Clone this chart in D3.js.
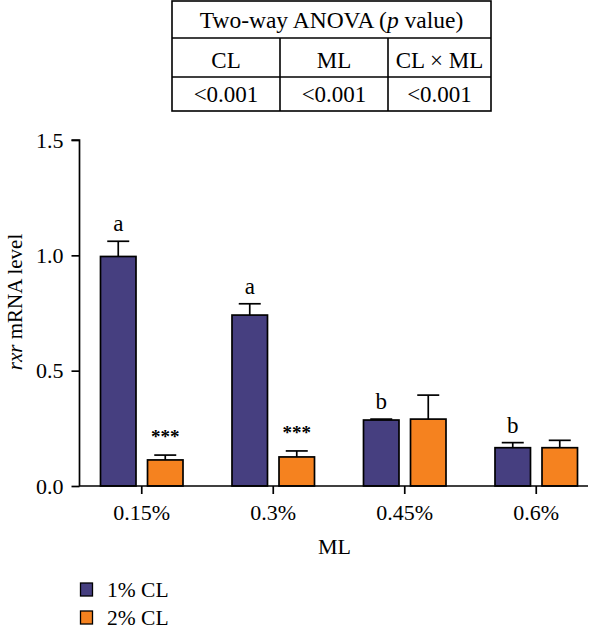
<!DOCTYPE html>
<html><head><meta charset="utf-8">
<script src="https://cdn.jsdelivr.net/npm/d3@7"></script>
<style>body{margin:0;background:#fff}svg{display:block}</style>
</head><body>
<svg id="c" width="600" height="628"></svg>
<script>
const categories = ["0.15%", "0.3%", "0.45%", "0.6%"];
const series = ["1% CL", "2% CL"];
const means = [[0.995, 0.741, 0.286, 0.166], [0.113, 0.126, 0.290, 0.166]];
const errors = [[0.066, 0.049, 0.004, 0.022], [0.021, 0.026, 0.104, 0.032]];
const letters = [["a", "a", "b", "b"], ["***", "***", "", ""]];
const yTicks = [0, 0.5, 1.0, 1.5];
const colors = ["#463f80", "#f5821f"];
const tableHeader = "Two-way ANOVA";
const tableCols = ["CL", "ML", "CL × ML"];
const tableVals = ["<0.001", "<0.001", "<0.001"];

const FONT = "Liberation Serif";
const FS = 22;
const svg = d3.select("#c").style("font-family", FONT);
const y = d3.scaleLinear().domain([0, 1.5]).range([486, 140]);
const x = d3.scaleBand().domain(categories).range([76, 602]);
const xs = d3.scaleBand().domain(series).range([0, 82.5]).paddingInner(0.245);

// Table
const tx = [172, 280, 388, 491], ty = [1, 38, 77, 111];
const tg = svg.append("g").attr("stroke", "#000").attr("stroke-width", 1.6).attr("fill", "none");
tg.append("rect").attr("x", tx[0]).attr("y", ty[0]).attr("width", tx[3]-tx[0]).attr("height", ty[3]-ty[0]);
[ty[1], ty[2]].forEach(v => tg.append("line").attr("x1", tx[0]).attr("x2", tx[3]).attr("y1", v).attr("y2", v));
[tx[1], tx[2]].forEach(v => tg.append("line").attr("x1", v).attr("x2", v).attr("y1", ty[1]).attr("y2", ty[3]));
const h = svg.append("text").attr("x", (tx[0]+tx[3])/2).attr("y", 28).attr("text-anchor", "middle").attr("font-size", 23.5);
h.append("tspan").text(tableHeader + " (");
h.append("tspan").attr("font-style", "italic").text("p");
h.append("tspan").text(" value)");
tableCols.forEach((c, i) => svg.append("text").attr("x", (tx[i]+tx[i+1])/2).attr("y", 68).attr("text-anchor", "middle").attr("font-size", 23).text(c));
tableVals.forEach((c, i) => svg.append("text").attr("x", (tx[i]+tx[i+1])/2).attr("y", 101.5).attr("text-anchor", "middle").attr("font-size", 23).text(c));

// Bars
series.forEach((s, si) => {
  categories.forEach((c, ci) => {
    const bx = x(c) + x.step()/2 - 41.25 + xs(s);
    const bw = xs.bandwidth();
    const cx = bx + bw/2;
    const top = y(means[si][ci]), et = y(means[si][ci] + errors[si][ci]);
    svg.append("line").attr("x1", cx).attr("x2", cx).attr("y1", top).attr("y2", et).attr("stroke", "#000").attr("stroke-width", 1.7);
    svg.append("line").attr("x1", cx-11).attr("x2", cx+11).attr("y1", et).attr("y2", et).attr("stroke", "#000").attr("stroke-width", 1.7);
    svg.append("rect").attr("x", bx).attr("y", top).attr("width", bw).attr("height", y(0)-top)
      .attr("fill", colors[si]).attr("stroke", "#000").attr("stroke-width", 1.7);
    const lab = letters[si][ci];
    if (lab) {
      const star = lab.startsWith("*");
      svg.append("text").attr("x", cx).attr("y", et - (star ? 12 : 10)).attr("text-anchor", "middle")
        .attr("font-size", star ? 19 : 23).attr("font-weight", star ? "bold" : "normal").text(lab);
    }
  });
});

// Y axis
const ya = svg.append("g").attr("transform", "translate(79.5,0)")
  .call(d3.axisLeft(y).tickValues(yTicks).tickFormat(d3.format(".1f")).tickSize(8).tickPadding(8));
ya.select(".domain").attr("stroke-width", 1.7).attr("d", `M-8,${y(1.5)}H0V${y(0)}`);
ya.selectAll(".tick line").attr("stroke-width", 1.7);
ya.selectAll("text").attr("font-family", FONT).attr("font-size", FS).attr("fill", "#000");

// X axis
const xa = svg.append("g").attr("transform", `translate(0,${y(0)})`)
  .call(d3.axisBottom(x).tickSize(8).tickPadding(10));
xa.select(".domain").attr("stroke-width", 1.7).attr("d", "M79,0H588");
xa.selectAll(".tick line").attr("stroke-width", 1.7);
xa.selectAll("text").attr("font-family", FONT).attr("font-size", FS).attr("fill", "#000");

// Axis titles
svg.append("text").attr("x", 334.5).attr("y", 554).attr("text-anchor", "middle").attr("font-size", FS).text("ML");
const yt = svg.append("text").attr("transform", "translate(22,302) rotate(-90)").attr("text-anchor", "middle").attr("font-size", 21);
yt.append("tspan").attr("font-style", "italic").text("rxr");
yt.append("tspan").text(" mRNA level");

// Legend
series.forEach((s, i) => {
  const ly = 583 + i*28;
  svg.append("rect").attr("x", 80.5).attr("y", ly).attr("width", 12).attr("height", 13).attr("fill", colors[i]).attr("stroke", "#000").attr("stroke-width", 1.3);
  svg.append("text").attr("x", 107).attr("y", ly + 13.5).attr("font-size", 21.5).text(s);
});
</script>
</body></html>
